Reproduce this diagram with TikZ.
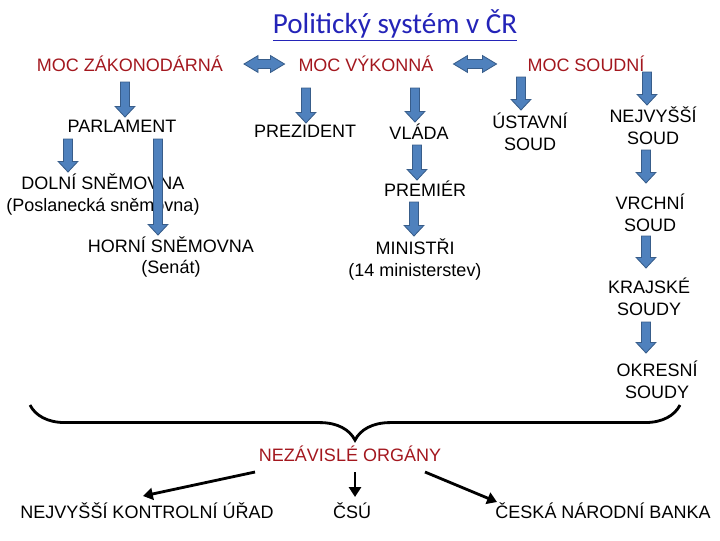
\documentclass[tikz,border=0pt]{standalone}
\usepackage{fontspec}
\setmainfont{Liberation Sans}
\newfontfamily\titlefont{Carlito}
\usetikzlibrary{arrows.meta, calc, decorations.pathreplacing}
\definecolor{mocred}{HTML}{A3171E}
\definecolor{titleblue}{HTML}{2424B8}
\definecolor{arrfill}{HTML}{4F81BD}
\definecolor{arrline}{HTML}{385D8A}
\tikzset{
  txt/.style={inner sep=0.5pt, align=center, font=\fontsize{12.8}{15.6}\selectfont},
  moc/.style={txt, text=mocred},
  blk/.style={fill=arrfill, draw=arrline, line width=0.6pt,
              to path={let \p1=(\tikztostart), \p2=(\tikztotarget) in
                (\x1-3.2pt,\y1) -- (\x1-3.2pt,\y2+7.5pt) -- (\x1-7pt,\y2+7.5pt) -- (\x1,\y2)
                -- (\x1+7pt,\y2+7.5pt) -- (\x1+3.2pt,\y2+7.5pt) -- (\x1+3.2pt,\y1) -- cycle}},
  dblk/.style={fill=arrfill, draw=arrline, line width=0.6pt,
              to path={let \p1=(\tikztostart), \p2=(\tikztotarget) in
                (\x1,\y1) -- (\x1+10pt,\y1+6pt) -- (\x1+10pt,\y1+3.2pt) -- (\x2-10pt,\y1+3.2pt)
                -- (\x2-10pt,\y1+6pt) -- (\x2,\y1) -- (\x2-10pt,\y1-6pt) -- (\x2-10pt,\y1-3.2pt)
                -- (\x1+10pt,\y1-3.2pt) -- (\x1+10pt,\y1-6pt) -- cycle}},
  blackarr/.style={-{Triangle[length=7pt, width=8.5pt]}, line width=2pt},
  brc/.style={decorate, decoration={brace, mirror, amplitude=25pt}, line width=2pt},
}

\begin{document}
\begin{tikzpicture}[x=0.025cm, y=-0.025cm]
  \useasboundingbox (0,0) rectangle (720,540);

  \node[inner sep=0pt, text=titleblue, font=\titlefont\fontsize{20.7}{24}\selectfont] (title) at (395,25) {\underline{Politický systém v ČR}};

  % tri moci
  \node[moc] (mz) at (130,64) {MOC ZÁKONODÁRNÁ};
  \node[moc] (mv) at (366,64) {MOC VÝKONNÁ};
  \node[moc] (ms) at (586,64) {MOC SOUDNÍ};

  % zakonodarna
  \node[txt] (parl) at (122,126) {PARLAMENT};
  \node[txt] (dolni) at (103,194.5) {DOLNÍ SNĚMOVNA\\(Poslanecká sněmovna)};
  \node[txt] (horni) at (171,257) {HORNÍ SNĚMOVNA\\(Senát)};

  % vykonna
  \node[txt] (prez) at (305,131) {PREZIDENT};
  \node[txt] (vlada) at (419,132) {VLÁDA};
  \node[txt] (prem) at (425,189) {PREMIÉR};
  \node[txt] (min) at (415,259.5) {MINISTŘI\\(14 ministerstev)};

  % soudni
  \node[txt] (ust) at (530,131.5) {ÚSTAVNÍ\\SOUD};
  \node[txt] (nejv) at (653,126) {NEJVYŠŠÍ\\SOUD};
  \node[txt] (vrch) at (650,213) {VRCHNÍ\\SOUD};
  \node[txt] (kraj) at (649,297) {KRAJSKÉ\\SOUDY};
  \node[txt] (okr) at (657,380) {OKRESNÍ\\SOUDY};

  % nezavisle organy
  \node[moc] (nez) at (350,454) {NEZÁVISLÉ ORGÁNY};
  \node[txt] (nku) at (147,511) {NEJVYŠŠÍ KONTROLNÍ ÚŘAD};
  \node[txt] (csu) at (352,511) {ČSÚ};
  \node[txt] (cnb) at (603,511) {ČESKÁ NÁRODNÍ BANKA};

  \draw[dblk] ($(mz.east)+(20,0)$) to ($(mv.west)+(-13,0)$);
  \draw[dblk] ($(mv.east)+(19,0)$) to ($(ms.west)+(-30,0)$);

  \draw[blk] ($(mz)+(-5,18)$) to ($(parl)+(0,-9)$);
  \draw[blk] ($(parl)+(-54,13)$) to ($(dolni)+(0,-22.5)$);
  \draw[blk] ($(parl)+(36,13)$) to ($(horni)+(0,-22)$);
  \draw[blk] ($(mv)+(-60,24)$) to ($(prez)+(0,-8)$);
  \draw[blk] ($(mv)+(49,24)$) to ($(vlada)+(0,-10)$);
  \draw[blk] ($(vlada)+(-2,13)$) to ($(prem)+(0,-9)$);
  \draw[blk] ($(prem)+(-11,13)$) to ($(min)+(0,-23.5)$);
  \draw[blk] ($(ms)+(-65,13)$) to ($(ust)+(0,-21.5)$);
  \draw[blk] ($(ms)+(61,8)$) to ($(nejv)+(0,-21)$);
  \draw[blk] ($(nejv)+(-7,24)$) to ($(vrch)+(0,-30)$);
  \draw[blk] ($(vrch)+(-4,23)$) to ($(kraj)+(0,-29)$);
  \draw[blk] ($(kraj)+(-3,25)$) to ($(okr)+(0,-27)$);

  \coordinate (bl) at (30,405);
  \coordinate (br) at (680,405);
  \draw[brc] (bl) -- (br);

  \draw[blackarr] ($(nez)+(-95,18)$) -- ($(nku)+(-4,-15)$);
  \draw[blackarr] ($(nez)+(5,18)$) -- ($(csu)+(3,-14)$);
  \draw[blackarr] ($(nez)+(75,18)$) -- ($(cnb)+(-106,-9)$);
\end{tikzpicture}
\end{document}
